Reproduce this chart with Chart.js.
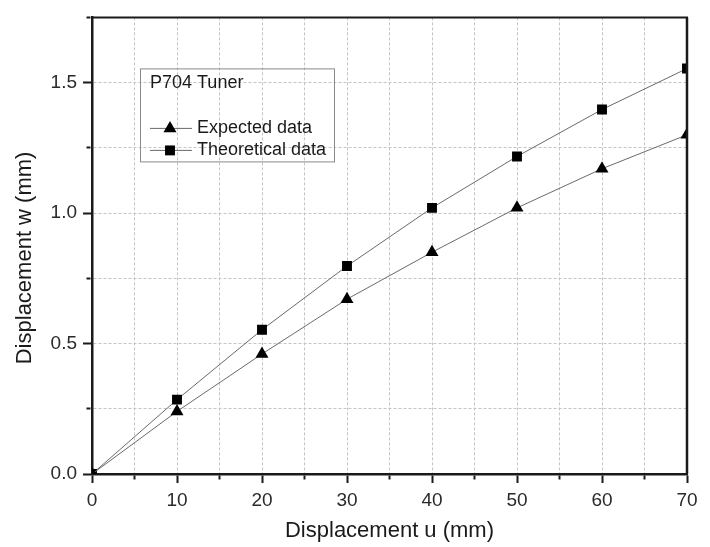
<!DOCTYPE html>
<html>
<head>
<meta charset="utf-8">
<script src="https://cdn.jsdelivr.net/npm/chart.js"></script>
<style>
	body { margin: 0; background: #fff; }
	#wrap { width: 710px; height: 547px; }
</style>
</head>
<body>
<div id="wrap"><canvas id="lineChart" width="710" height="547"></canvas></div>
<script>
// values
var uValues = [0, 10, 20, 30, 40, 50, 60, 70];
var expected = [0, 0.24, 0.46, 0.67, 0.85, 1.02, 1.17, 1.30];
var theoretical = [0, 0.285, 0.553, 0.797, 1.02, 1.217, 1.397, 1.554];
var keyTitle = 'P704 Tuner';

var FONT = '"Liberation Sans", Arial, sans-serif';
var INK = '#1a1a1a';

function pairs(ys) {
	return ys.map(function (y, i) { return { x: uValues[i], y: y }; });
}

// top + right frame and the boxed key
var frameAndKey = {
	id: 'frameAndKey',
	afterDraw: function (chart) {
		var ctx = chart.ctx, a = chart.chartArea;
		ctx.save();
		ctx.strokeStyle = INK;
		ctx.lineWidth = 2;
		ctx.beginPath(); ctx.moveTo(a.left, a.top); ctx.lineTo(a.right + 1, a.top); ctx.stroke();
		ctx.lineWidth = 2.5;
		ctx.beginPath(); ctx.moveTo(a.right, a.top); ctx.lineTo(a.right, a.bottom); ctx.stroke();

		var x0 = a.left + 48, y0 = a.top + 51;
		ctx.strokeStyle = '#8a8a8a';
		ctx.lineWidth = 1;
		ctx.strokeRect(x0 + 0.5, y0 + 0.5, 194, 93);
		ctx.fillStyle = INK;
		ctx.font = '18px ' + FONT;
		ctx.textBaseline = 'middle';
		ctx.fillText(keyTitle, x0 + 10, y0 + 15);
		chart.data.datasets.forEach(function (ds, i) {
			var y = y0 + 60 + i * 22;
			ctx.strokeStyle = ds.borderColor;
			ctx.lineWidth = ds.borderWidth;
			ctx.beginPath(); ctx.moveTo(x0 + 10, y); ctx.lineTo(x0 + 52, y); ctx.stroke();
			ctx.fillStyle = ds.pointBackgroundColor;
			ctx.strokeStyle = ds.pointBorderColor;
			Chart.helpers.drawPoint(ctx, { pointStyle: ds.pointStyle, radius: ds.pointRadius, borderWidth: 0, rotation: 0 }, x0 + 30, y);
			ctx.fillStyle = INK;
			ctx.fillText(ds.label, x0 + 57, y);
		});
		ctx.restore();
	}
};

window.onload = function () {
	var ctx = document.getElementById('lineChart').getContext('2d');
	new Chart(ctx, {
		type: 'line',
		data: {
			datasets: [{
				label: 'Expected data',
				data: pairs(expected),
				borderColor: '#6a6a6a',
				borderWidth: 1,
				pointStyle: 'triangle',
				pointRadius: 7.5,
				pointBackgroundColor: '#000',
				pointBorderColor: '#000',
				pointBorderWidth: 0,
				clip: 0
			}, {
				label: 'Theoretical data',
				data: pairs(theoretical),
				borderColor: '#6a6a6a',
				borderWidth: 1,
				pointStyle: 'rect',
				pointRadius: 7,
				pointBackgroundColor: '#000',
				pointBorderColor: '#000',
				pointBorderWidth: 0,
				clip: 0
			}]
		},
		options: {
			responsive: false,
			animation: false,
			events: [],
			layout: { padding: { top: 10, right: 23, left: 0, bottom: 0 } },
			plugins: { legend: { display: false }, tooltip: { enabled: false } },
			scales: {
				x: {
					type: 'linear',
					min: 0, max: 70,
					afterFit: function (s) { s.height = 73; },
					// in v4 border.dash is what dashes the grid lines
					border: { color: INK, width: 2.5, dash: [3, 2] },
					grid: {
						color: '#c4c4c4',
						tickLength: 9,
						tickColor: INK,
						tickWidth: 2,
						tickBorderDash: function (c) { return c.tick && c.tick.value % 10 ? [4, 100] : []; }
					},
					ticks: {
						stepSize: 5,
						padding: 6,
						maxRotation: 0,
						color: '#2a2a2a',
						font: { family: FONT, size: 19 },
						callback: function (v) { return v % 10 === 0 ? String(v) : ''; }
					},
					title: {
						display: true,
						text: 'Displacement u (mm)',
						color: INK,
						font: { family: FONT, size: 22 },
						padding: { top: 0, bottom: 3 }
					}
				},
				y: {
					type: 'linear',
					min: 0, max: 1.75,
					afterFit: function (s) { s.width = 92; },
					border: { color: INK, width: 2.5, dash: [3, 2] },
					grid: {
						color: '#c4c4c4',
						tickLength: 9,
						tickColor: INK,
						tickWidth: 2,
						tickBorderDash: function (c) { return c.tick && (c.tick.value * 4) % 2 ? [0, 3.5, 4, 100] : []; }
					},
					ticks: {
						stepSize: 0.25,
						padding: 6,
						color: '#2a2a2a',
						font: { family: FONT, size: 19 },
						callback: function (v) { return (v * 4) % 2 === 0 ? v.toFixed(1) : ''; }
					},
					title: {
						display: true,
						// trailing spaces nudge the centred text down to where the original sits
						text: 'Displacement w (mm)    ',
						color: INK,
						font: { family: FONT, size: 22 },
						padding: { top: 12, bottom: 0 }
					}
				}
			}
		},
		plugins: [frameAndKey]
	});
};
</script>
</body>
</html>
